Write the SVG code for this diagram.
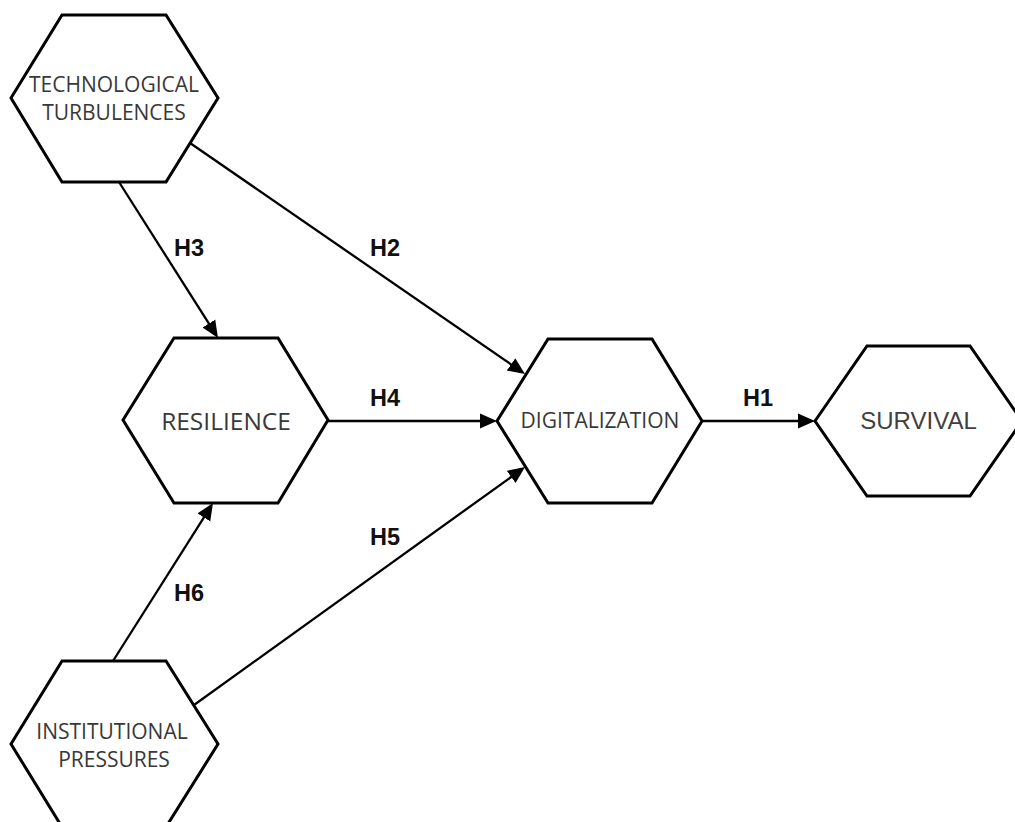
<svg xmlns="http://www.w3.org/2000/svg" width="1015" height="822" viewBox="0 0 1015 822">
  <style>
    .hex { fill: #ffffff; stroke: #000000; stroke-width: 3; stroke-linejoin: miter; }
    .name { font-family: "Open Sans", "DejaVu Sans", sans-serif; fill: #383838; text-anchor: middle; }
    .name-arial { font-family: "Liberation Sans", Arial, sans-serif; fill: #404040; text-anchor: middle; }
    .edge { fill: none; stroke: #000000; stroke-width: 2.3; marker-end: url(#arrow); }
    .label { font-family: "Liberation Sans", Arial, sans-serif; font-weight: bold; font-size: 23.5px; fill: #111111; text-anchor: middle; }
  </style>
  <defs>
    <!-- filled block arrowhead; tip sits 8px beyond the path end -->
    <marker id="arrow" markerUnits="userSpaceOnUse" markerWidth="19" markerHeight="17" refX="9" refY="8" orient="auto" viewBox="0 0 19 17">
      <path d="M0,0.5 L17,8 L0,15.5 Z" fill="#000000"/>
    </marker>
  </defs>
  <rect width="1015" height="822" fill="#ffffff"/>

  <!-- connectors -->
  <g id="connectors">
    <path class="edge" d="M119,182 L213.7,331.2"/>
    <path class="edge" d="M190,143 L518.4,369.5"/>
    <path class="edge" d="M328,421 L489,421"/>
    <path class="edge" d="M702,421 L807,421"/>
    <path class="edge" d="M113,661 L208.7,509.8"/>
    <path class="edge" d="M194,705 L518.5,471.7"/>
    <text class="label" x="189" y="256">H3</text>
    <text class="label" x="385" y="256">H2</text>
    <text class="label" x="385" y="406">H4</text>
    <text class="label" x="758" y="406">H1</text>
    <text class="label" x="385" y="545">H5</text>
    <text class="label" x="189" y="601">H6</text>
  </g>

  <g id="technological-turbulences">
    <polygon class="hex" points="11,98 62,15 166,15 218,98 166,182 62,182"/>
    <text class="name" font-size="21" x="114" y="92">TECHNOLOGICAL</text>
    <text class="name" font-size="21" x="114" y="120">TURBULENCES</text>
  </g>

  <g id="resilience">
    <polygon class="hex" points="123,420 174,338 278,338 328,420 278,503 174,503"/>
    <text class="name" font-size="24.5" x="226" y="430">RESILIENCE</text>
  </g>

  <g id="digitalization">
    <polygon class="hex" points="497,421 548,339 652,339 702,421 652,503 548,503"/>
    <text class="name" font-size="21" x="600" y="428">DIGITALIZATION</text>
  </g>

  <g id="survival">
    <polygon class="hex" points="815,421 867,346 970,346 1022,421 970,496 867,496"/>
    <text class="name-arial" font-size="24" x="918.5" y="429">SURVIVAL</text>
  </g>

  <g id="institutional-pressures">
    <polygon class="hex" points="11,744 62,661 166,661 218,744 166,827 62,827"/>
    <text class="name" font-size="21" x="112" y="739">INSTITUTIONAL</text>
    <text class="name" font-size="21" x="114" y="767">PRESSURES</text>
  </g>
</svg>
